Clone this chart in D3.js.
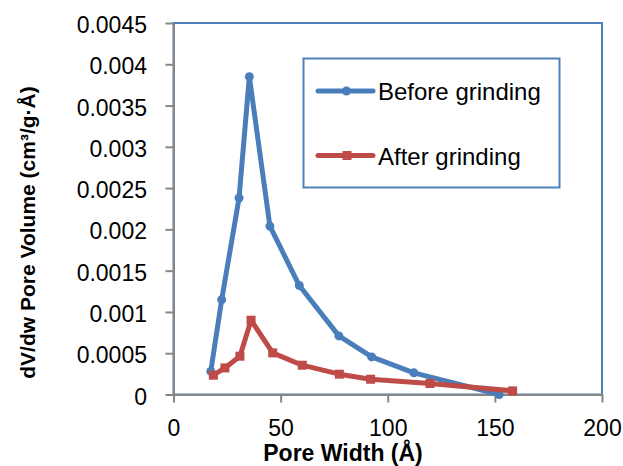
<!DOCTYPE html>
<html>
<head>
<meta charset="utf-8">
<script src="https://cdn.jsdelivr.net/npm/d3@7"></script>
<style>
  body { margin: 0; background: #fff; }
  svg { display: block; font-family: "Liberation Sans", Arial, sans-serif; }
</style>
</head>
<body>
<svg id="chart" width="623" height="466"></svg>
<script>
// values
const widthBefore = [17.4, 22.5, 30.6, 35.4, 45.0, 58.7, 77.2, 92.5, 112.2, 152];
const volumeBefore = [0.00028, 0.00115, 0.00238, 0.00385, 0.00204, 0.00132, 0.00071, 0.000455, 0.000262, 0.0];
const widthAfter = [18.6, 24.0, 31.0, 36.2, 46.3, 60.1, 77.4, 92.0, 119.7, 158.3];
const volumeAfter = [0.000234, 0.000322, 0.000464, 0.0009, 0.000504, 0.000355, 0.000246, 0.000185, 0.000133, 0.000044];

const xTicks = [0, 50, 100, 150, 200];
const yTicks = [0, 0.0005, 0.001, 0.0015, 0.002, 0.0025, 0.003, 0.0035, 0.004, 0.0045];
const yTickLabels = ["0", "0.0005", "0.001", "0.0015", "0.002", "0.0025", "0.003", "0.0035", "0.004", "0.0045"];

const seriesNames = ["Before grinding", "After grinding"];
const seriesColors = ["#4A7EBB", "#BE4B48"];

const margin = {top: 23, right: 21, bottom: 71.5, left: 173.5};
const width = 623, height = 466;

const svg = d3.select("#chart");

const x = d3.scaleLinear().domain([0, 200]).range([margin.left, width - margin.right]);
const y = d3.scaleLinear().domain([0, 0.0045]).range([height - margin.bottom, margin.top]);

// plot area border
svg.append("rect")
    .attr("x", x(0))
    .attr("y", y(0.0045))
    .attr("width", x(200) - x(0))
    .attr("height", y(0) - y(0.0045))
    .attr("fill", "none")
    .attr("stroke", "#4F81BD")
    .attr("stroke-width", 2);

const xAxis = svg.append("g")
    .attr("transform", `translate(0, ${y(0)})`)
    .call(d3.axisBottom(x).tickValues(xTicks).tickSize(8).tickSizeOuter(0).tickFormat(d3.format("d")));

const yAxis = svg.append("g")
    .attr("transform", `translate(${x(0)}, 0)`)
    .call(d3.axisLeft(y).tickValues(yTicks).tickSize(8).tickSizeOuter(0)
        .tickFormat((d, i) => yTickLabels[i]));

[xAxis, yAxis].forEach(g => {
    g.select(".domain").attr("stroke", "#868686").attr("stroke-width", 2);
    g.selectAll(".tick line").attr("stroke", "#868686").attr("stroke-width", 2);
    g.selectAll(".tick text")
        .attr("fill", "#000")
        .style("font-size", "23px")
        .style("font-family", "'Liberation Sans', Arial, sans-serif");
});

xAxis.selectAll(".tick text").attr("y", 41.5).attr("dy", null);
yAxis.selectAll(".tick text").attr("x", -26.5).attr("dy", "9.5px");

// axis titles
svg.append("text")
    .attr("x", 343)
    .attr("y", 460.5)
    .attr("text-anchor", "middle")
    .style("font-size", "23px")
    .style("font-weight", "bold")
    .text("Pore Width (Å)");

svg.append("text")
    .attr("transform", "translate(34.5, 232.5) rotate(-90)")
    .attr("text-anchor", "middle")
    .style("font-size", "21px")
    .style("font-weight", "bold")
    .text("dV/dw Pore Volume (cm³/g·Å)");

const line = d3.line().x(d => x(d[0])).y(d => y(d[1]));

const before = d3.zip(widthBefore, volumeBefore);
const after = d3.zip(widthAfter, volumeAfter);

// before grinding
svg.append("path")
    .datum(before)
    .attr("d", line)
    .attr("fill", "none")
    .attr("stroke", seriesColors[0])
    .attr("stroke-width", 5)
    .attr("stroke-linejoin", "round");

svg.append("g").selectAll("circle")
    .data(before)
    .join("circle")
    .attr("cx", d => x(d[0]))
    .attr("cy", d => y(d[1]))
    .attr("r", 4.5)
    .attr("fill", seriesColors[0]);

// after grinding
svg.append("path")
    .datum(after)
    .attr("d", line)
    .attr("fill", "none")
    .attr("stroke", seriesColors[1])
    .attr("stroke-width", 5)
    .attr("stroke-linejoin", "round");

svg.append("g").selectAll("rect")
    .data(after)
    .join("rect")
    .attr("x", d => x(d[0]) - 4.5)
    .attr("y", d => y(d[1]) - 4.5)
    .attr("width", 9)
    .attr("height", 9)
    .attr("fill", seriesColors[1]);

// legend
const legend = svg.append("g");
legend.append("rect")
    .attr("x", 303.5)
    .attr("y", 58.5)
    .attr("width", 256)
    .attr("height", 129)
    .attr("fill", "#fff")
    .attr("stroke", "#4F81BD")
    .attr("stroke-width", 2);

const legendY = [91, 155.5];
seriesNames.forEach((name, i) => {
    const g = legend.append("g").attr("transform", `translate(0, ${legendY[i]})`);
    g.append("line")
        .attr("x1", 318).attr("x2", 373)
        .attr("stroke", seriesColors[i])
        .attr("stroke-width", 5)
        .attr("stroke-linecap", "round");
    if (i === 0) {
        g.append("circle").attr("cx", 346.5).attr("r", 4.5).attr("fill", seriesColors[i]);
    } else {
        g.append("rect").attr("x", 342.5).attr("y", -4.5).attr("width", 9).attr("height", 9).attr("fill", seriesColors[i]);
    }
    g.append("text")
        .attr("x", 378)
        .attr("y", 9)
        .style("font-size", "24px")
        .text(name);
});
</script>
</body>
</html>
